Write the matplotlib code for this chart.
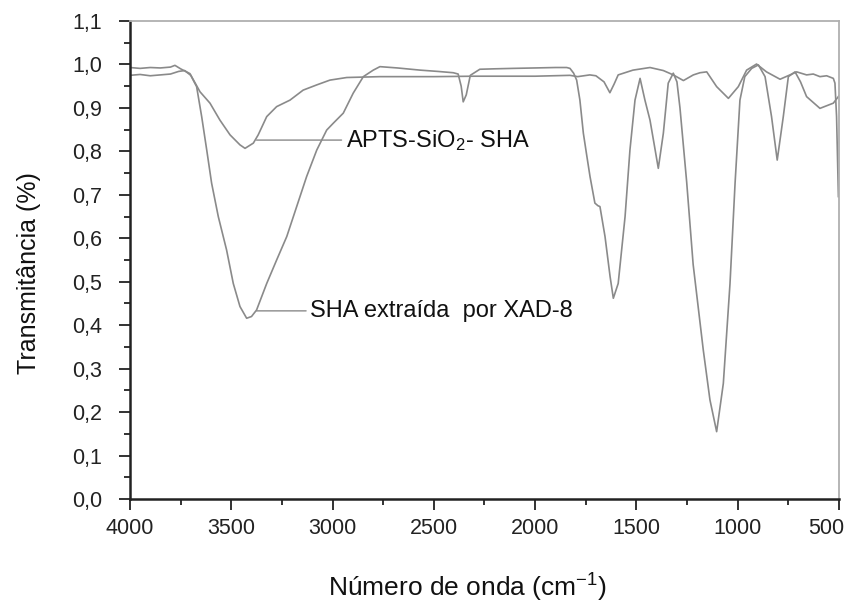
import matplotlib
matplotlib.use("Agg")
import matplotlib.pyplot as plt
from matplotlib.ticker import MultipleLocator, FuncFormatter

plt.rcParams['font.family'] = ['Liberation Sans', 'DejaVu Sans']
plt.rcParams['mathtext.fontset'] = 'custom'
plt.rcParams['mathtext.rm'] = 'Liberation Sans'
plt.rcParams['mathtext.it'] = 'Liberation Sans:italic'

# SHA extraida por XAD-8 (deep bands)
sha_wn = [4000, 3950, 3900, 3850, 3800, 3760, 3730, 3700, 3671, 3646, 3621, 3597,
          3564, 3523, 3490, 3457, 3424, 3400, 3375, 3325, 3276, 3226, 3177, 3128,
          3078, 3029, 2996, 2947, 2898, 2848, 2799, 2766, 2680, 2568, 2480, 2404,
          2380, 2365, 2355, 2340, 2320, 2273, 2200, 2109, 2000, 1900, 1844, 1828,
          1810, 1795, 1779, 1762, 1745, 1729, 1705, 1690, 1680, 1655, 1630, 1614,
          1590, 1556, 1532, 1507, 1482, 1458, 1433, 1410, 1392, 1367, 1343, 1318,
          1300, 1285, 1252, 1220, 1170, 1137, 1104, 1071, 1038, 1013, 989, 965,
          931, 898, 865, 833, 805, 775, 750, 717, 690, 660, 594, 528, 500]
sha_t = [0.975, 0.977, 0.974, 0.976, 0.978, 0.984, 0.986, 0.975, 0.949, 0.880, 0.803, 0.727,
         0.650, 0.573, 0.496, 0.443, 0.416, 0.420, 0.435, 0.496, 0.550, 0.604, 0.673, 0.742,
         0.803, 0.849, 0.865, 0.888, 0.934, 0.972, 0.987, 0.995, 0.992, 0.987, 0.984, 0.981,
         0.978, 0.950, 0.914, 0.930, 0.975, 0.989, 0.990, 0.991, 0.992, 0.993, 0.993, 0.991,
         0.980, 0.964, 0.918, 0.842, 0.790, 0.742, 0.681, 0.675, 0.673, 0.604, 0.512, 0.462,
         0.496, 0.650, 0.803, 0.918, 0.968, 0.918, 0.872, 0.810, 0.761, 0.842, 0.957, 0.980,
         0.960, 0.900, 0.730, 0.540, 0.343, 0.228, 0.155, 0.266, 0.496, 0.727, 0.918, 0.972,
         0.991, 0.999, 0.972, 0.880, 0.780, 0.880, 0.972, 0.983, 0.960, 0.926, 0.899, 0.911, 0.928]

# APTS-SiO2-SHA
apts_wn = [4000, 3950, 3900, 3850, 3800, 3778, 3750, 3704, 3654, 3605, 3556, 3506,
           3457, 3432, 3391, 3367, 3325, 3276, 3210, 3145, 3078, 3013, 2930, 2766,
           2500, 2300, 2000, 1828, 1790, 1760, 1730, 1700, 1660, 1631, 1610, 1590,
           1517, 1433, 1367, 1318, 1268, 1219, 1186, 1153, 1104, 1046, 997, 956,
           907, 858, 791, 742, 709, 660, 627, 594, 561, 528, 520, 512, 503]
apts_t = [0.993, 0.991, 0.993, 0.992, 0.994, 0.998, 0.990, 0.979, 0.937, 0.911, 0.872, 0.838,
          0.815, 0.807, 0.819, 0.838, 0.880, 0.903, 0.918, 0.941, 0.953, 0.964, 0.970, 0.972,
          0.972, 0.973, 0.973, 0.975, 0.972, 0.974, 0.976, 0.974, 0.960, 0.935, 0.955, 0.976,
          0.987, 0.993, 0.986, 0.976, 0.963, 0.976, 0.981, 0.983, 0.949, 0.922, 0.949, 0.987,
          1.001, 0.983, 0.966, 0.976, 0.983, 0.976, 0.978, 0.972, 0.974, 0.968, 0.957, 0.880, 0.696]

x_last = 500
line_color = '#8a8a8a'
tick_color = '#222222'

fig = plt.figure(figsize=(8.45, 6.04), dpi=100)
ax = fig.add_axes([0.1538, 0.1738, 0.8391, 0.7914])

ax.plot(sha_wn, sha_t, color=line_color, lw=1.2)
ax.plot(apts_wn, apts_t, color=line_color, lw=1.2)

ax.set_xlim(4000, x_last)
ax.set_ylim(0, 1.1)

ax.xaxis.set_major_locator(MultipleLocator(500))
ax.xaxis.set_minor_locator(MultipleLocator(250))
# the 500 label is drawn by hand below, nudged left so it stays inside the figure
ax.xaxis.set_major_formatter(FuncFormatter(lambda v, p: '' if v <= x_last else '%d' % v))
ax.yaxis.set_major_locator(MultipleLocator(0.1))
ax.yaxis.set_minor_locator(MultipleLocator(0.05))
ax.yaxis.set_major_formatter(FuncFormatter(lambda v, p: ('%.1f' % v).replace('.', ',')))

ax.tick_params(axis='both', which='major', direction='out', length=8, width=1.3,
               labelsize=15.5, colors=tick_color)
ax.tick_params(axis='both', which='minor', direction='out', length=4.5, width=1.3,
               colors=tick_color)
ax.tick_params(axis='y', which='major', pad=12)
ax.tick_params(axis='x', which='major', pad=6)

ax.annotate('%d' % x_last, xy=(x_last, 0), xycoords='data', xytext=(-9.5, -14),
            textcoords='offset points', ha='center', va='top', fontsize=15.5,
            color=tick_color, annotation_clip=False)

for side in ['left', 'bottom']:
    ax.spines[side].set_color(tick_color)
    ax.spines[side].set_linewidth(1.8)
for side in ['top', 'right']:
    ax.spines[side].set_color('#b0b0b0')
    ax.spines[side].set_linewidth(1.3)

# curve labels
ax.annotate(r'APTS-SiO$_2$- SHA', xy=(3375, 0.826), xytext=(2935, 0.826),
            fontsize=17, va='center', ha='left', color='#111111',
            arrowprops=dict(arrowstyle='-', color=line_color, lw=1.0,
                            shrinkA=1, shrinkB=0))
ax.annotate('SHA extraída  por XAD-8', xy=(3375, 0.433), xytext=(3110, 0.433),
            fontsize=17, va='center', ha='left', color='#111111',
            arrowprops=dict(arrowstyle='-', color=line_color, lw=1.0,
                            shrinkA=1, shrinkB=0))

fig.text(0.034, 0.548, 'Transmitância (%)', rotation=90, fontsize=18,
         ha='center', va='center', color='#111111')
fig.text(0.553, 0.027, r'Número de onda (cm$^{\mathrm{-1}}$)', fontsize=19,
         ha='center', va='center', color='#111111')

fig.savefig('out.png', dpi=100)
